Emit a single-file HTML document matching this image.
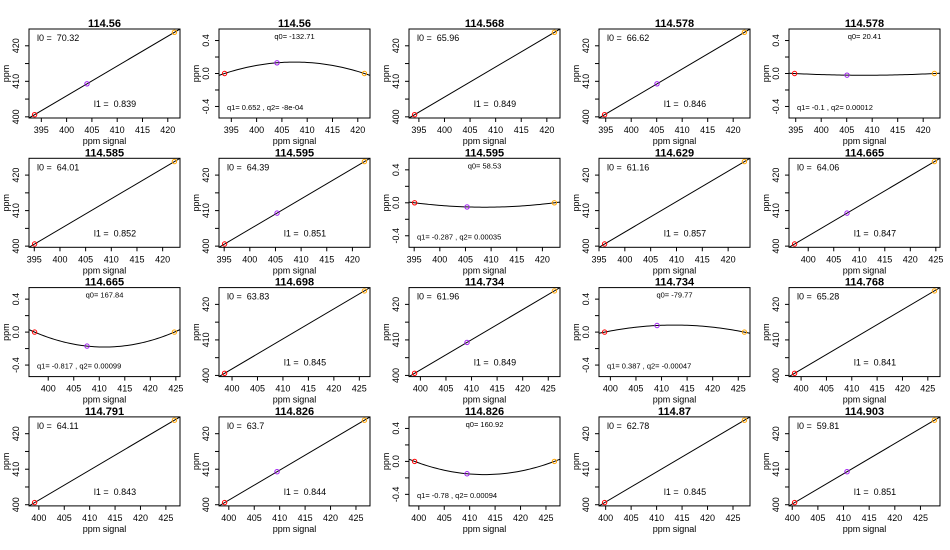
<!DOCTYPE html>
<html><head><meta charset="utf-8"><style>
html,body{margin:0;padding:0;background:#fff;width:950px;height:550px;overflow:hidden}
svg{display:block;font-family:"Liberation Sans",sans-serif}
</style></head><body>
<svg id="chart" width="950" height="550"></svg>
<script>
const titles=["114.56","114.56","114.568","114.578","114.578","114.585","114.595","114.595","114.629","114.665","114.665","114.698","114.734","114.734","114.768","114.791","114.826","114.826","114.87","114.903"];
const kinds=["lin","quad","lin","lin","quad","lin","lin","quad","lin","lin","quad","lin","lin","quad","lin","lin","lin","quad","lin","lin"];
const signalX=[[393.67,404.03,421.31],[393.67,404.03,421.31],[394.16,null,421.48],[394.78,405.06,422.20],[394.78,405.06,422.20],[395.06,null,422.29],[395.08,405.31,422.34],[395.08,405.31,422.34],[396.08,null,423.15],[397.33,407.60,424.72],[397.33,407.60,424.72],[398.54,null,426.0],[398.87,409.12,426.20],[398.87,409.12,426.20],[398.72,null,426.30],[399.16,null,426.68],[399.17,409.48,426.66],[399.17,409.48,426.66],[399.79,null,427.24],[400.46,410.68,427.72]];
const refPpm=[400.6,409.3,423.8];
const residMid=[0,0.13,0,0,-0.02,0,0,-0.05,0,0,-0.17,0,0,0.08,0,0,0,-0.15,0,0];
const labelA=["l0 =  70.32","q0= -132.71","l0 =  65.96","l0 =  66.62","q0= 20.41","l0 =  64.01","l0 =  64.39","q0= 58.53","l0 =  61.16","l0 =  64.06","q0= 167.84","l0 =  63.83","l0 =  61.96","q0= -79.77","l0 =  65.28","l0 =  64.11","l0 =  63.7","q0= 160.92","l0 =  62.78","l0 =  59.81"];
const labelB=["l1 =  0.839","q1= 0.652 , q2= -8e-04","l1 =  0.849","l1 =  0.846","q1= -0.1 , q2= 0.00012","l1 =  0.852","l1 =  0.851","q1= -0.287 , q2= 0.00035","l1 =  0.857","l1 =  0.847","q1= -0.817 , q2= 0.00099","l1 =  0.845","l1 =  0.849","q1= 0.387 , q2= -0.00047","l1 =  0.841","l1 =  0.843","l1 =  0.844","q1= -0.78 , q2= 0.00094","l1 =  0.845","l1 =  0.851"];
const ptColors=["#ff0000","#a020f0","#ffa500"];

const NS="http://www.w3.org/2000/svg";
const svg=document.getElementById('chart');
function mk(tag,attrs,parent){const e=document.createElementNS(NS,tag);for(const k in attrs)e.setAttribute(k,attrs[k]);parent.appendChild(e);return e;}
const W=151,H=89;
const defs=mk('defs',{},svg);
titles.forEach((t,i)=>{
  const c=i%5,r=Math.floor(i/5);
  const L=29+190*c,T=29+129.3*r;
  const g=mk('g',{},svg);
  
  
  const xs=signalX[i];
  const valid=xs.filter(v=>v!==null);
  const xmin=Math.min(...valid),xmax=Math.max(...valid),pad=(xmax-xmin)*0.04;
  const x0=xmin-pad,x1=xmax+pad;
  const sx=v=>L+(v-x0)/(x1-x0)*W;
  let y0,y1,yt,ylab;
  const lin=kinds[i]==="lin";
  if(lin){const p=(refPpm[2]-refPpm[0])*0.04;y0=refPpm[0]-p;y1=refPpm[2]+p;yt=[400,405,410,415,420];ylab=[400,410,420];}
  else{y0=-0.54;y1=0.54;yt=[-0.4,-0.2,0,0.2,0.4];ylab=[-0.4,0,0.4];}
  const sy=v=>T+H-(v-y0)/(y1-y0)*H;
  const cp=mk('clipPath',{id:'cp'+i},defs);mk('rect',{x:L,y:T,width:W,height:H},cp);
  const pts=[];xs.forEach((x,k)=>{if(x!==null){pts.push([x,lin?refPpm[k]:(k===1?residMid[i]:0)]);}});
  let d='';
  if(lin){const [a,b]=[pts[0],pts[pts.length-1]];const s=(b[1]-a[1])/(b[0]-a[0]);const f=x=>a[1]+s*(x-a[0]);d=`M${sx(x0)},${sy(f(x0))}L${sx(x1)},${sy(f(x1))}`;}
  else{const f=x=>{let s=0;for(let j=0;j<3;j++){let l=1;for(let k=0;k<3;k++)if(k!==j)l*=(x-pts[k][0])/(pts[j][0]-pts[k][0]);s+=pts[j][1]*l;}return s;};
    for(let n=0;n<=60;n++){const x=x0+(x1-x0)*n/60;d+=(n?'L':'M')+sx(x).toFixed(2)+','+sy(f(x)).toFixed(2);}}
  const fl=mk('path',{d:d,fill:'none',stroke:'#000','stroke-width':1,'clip-path':'url(#cp'+i+')'},g);
  
  
  xs.forEach((x,k)=>{if(x===null)return;const yv=lin?refPpm[k]:(k===1?residMid[i]:0);
    const p=mk('circle',{cx:sx(x),cy:sy(yv),r:2.2,fill:'none',stroke:ptColors[k],'stroke-width':1},g);
    
    });
  const box=mk('rect',{x:L,y:T,width:W,height:H,fill:'none',stroke:'#000','stroke-width':1},g);
  
  
  for(let v=Math.ceil(x0/5)*5;v<=x1;v+=5){const X=sx(v);mk('line',{x1:X,y1:T+H,x2:X,y2:T+H+4,stroke:'#000'},g);
    const tl=mk('text',{x:X,y:T+H+15,'font-size':9,'text-anchor':'middle'},g);tl.textContent=v;
    
    }
  yt.forEach(v=>{const Y=sy(v);mk('line',{x1:L,y1:Y,x2:L-4,y2:Y,stroke:'#000'},g);});
  ylab.forEach(v=>{const Y=sy(v);const tl=mk('text',{x:0,y:0,'font-size':9,'text-anchor':'middle',transform:`translate(${L-10},${Y}) rotate(-90)`},g);tl.textContent=lin?v:v.toFixed(1);
    
    });
  const tt=mk('text',{x:L+W/2,y:T-2,'font-size':11,'font-weight':'bold','text-anchor':'middle'},g);tt.textContent=t;
  
  
  const xl=mk('text',{x:L+W/2,y:T+H+26,'font-size':9,'text-anchor':'middle'},g);xl.textContent='ppm signal';
  
  
  const yl=mk('text',{x:0,y:0,'font-size':9,'text-anchor':'middle',transform:`translate(${L-20},${T+H/2}) rotate(-90)`},g);yl.textContent='ppm';
  
  
  let a,b;
  if(lin){a=mk('text',{x:L+8,y:T+12,'font-size':9},g);b=mk('text',{x:L+W*0.57,y:T+78,'font-size':9,'text-anchor':'middle'},g);}
  else{a=mk('text',{x:L+W/2,y:T+10,'font-size':7.5,'text-anchor':'middle'},g);b=mk('text',{x:L+8,y:T+81,'font-size':7.5},g);}
  a.textContent=labelA[i];b.textContent=labelB[i];
  a.setAttribute('style','white-space:pre');b.setAttribute('style','white-space:pre');
  
  
  
  
});
</script>
</body></html>
